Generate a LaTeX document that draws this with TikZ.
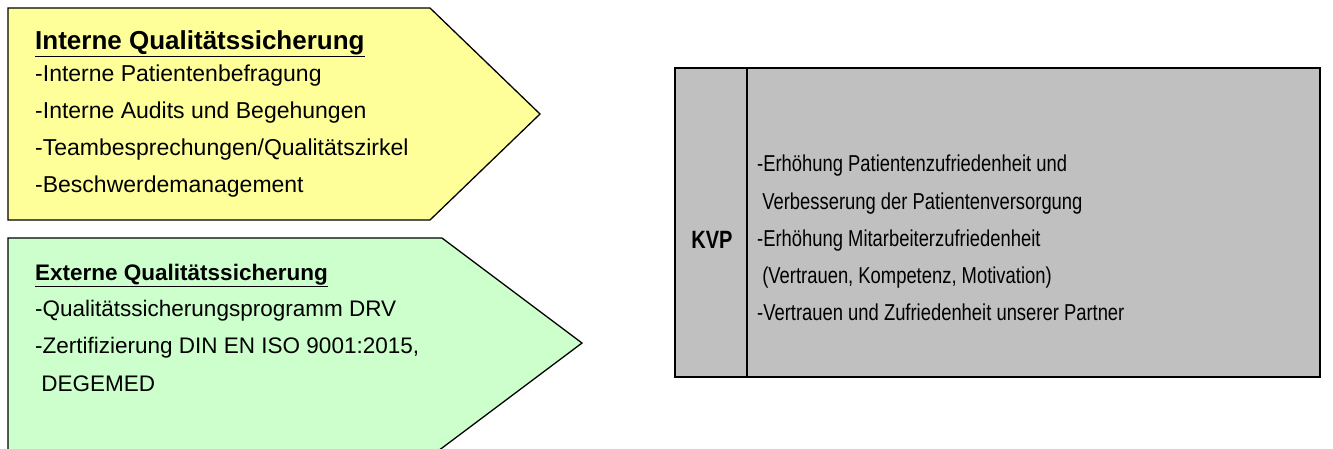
\documentclass[tikz,border=0pt]{standalone}
\usepackage{fontspec}
\setmainfont{Liberation Sans}
\newfontfamily\narrowsans[FakeStretch=0.8]{Liberation Sans}
\begin{document}
\begin{tikzpicture}[x=1pt,y=-1pt,
  arrowbox/.style={draw=black,line width=1.3pt,line join=miter},
  txt/.style={anchor=base west,inner sep=0pt,font=\fontsize{23}{28}\selectfont},
  gtxt/.style={anchor=base west,inner sep=0pt,font=\fontsize{22.5}{28}\selectfont},
  rtxt/.style={anchor=base west,inner sep=0pt,font=\narrowsans\fontsize{23}{28}\selectfont},
  ttl/.style={anchor=base west,inner sep=0pt,font=\fontsize{26}{30}\selectfont\bfseries},
  gttl/.style={anchor=base west,inner sep=0pt,font=\fontsize{22.5}{28}\selectfont\bfseries}]
\useasboundingbox (0,0) rectangle (1333,448);
\begin{scope}
\clip (0,0) rectangle (1333,448);
% internal quality assurance arrow
\path[arrowbox,fill={rgb,255:red,255;green,255;blue,153}]
  (8,8) -- (430,8) -- (540,114) -- (430,220) -- (8,220) -- cycle;
% external quality assurance arrow (runs past the lower edge)
\path[arrowbox,fill={rgb,255:red,204;green,255;blue,204}]
  (8,470) -- (8,238) -- (442,238) -- (582,343) -- (442,448) -- (412,470);
% KVP box
\path[draw=black,line width=2.6pt,fill={rgb,255:red,192;green,192;blue,192}]
  (675,68) rectangle (1320,377);
\draw[line width=2.6pt] (747,68) -- (747,377);
\end{scope}

\node[ttl] (t1) at (35,49) {\underline{Interne Qualitätssicherung}};
\node[txt] (a1) at (35,81) {-Interne Patientenbefragung};
\node[txt] (a2) at (35,118) {-Interne Audits und Begehungen};
\node[txt] (a3) at (35,155) {-Teambesprechungen/Qualitätszirkel};
\node[txt] (a4) at (35,192) {-Beschwerdemanagement};

\node[gttl] (t2) at (35,280) {\underline{Externe Qualitätssicherung}};
\node[gtxt] (b1) at (35,316) {-Qualitätssicherungsprogramm DRV};
\node[gtxt] (b2) at (35,353) {-Zertifizierung DIN EN ISO 9001:2015,};
\node[gtxt] (b3) at (35,391) {\ DEGEMED};

\node[anchor=center,inner sep=0pt,font=\narrowsans\fontsize{25}{30}\selectfont\bfseries] (kvp) at (712,240) {KVP};
\node[rtxt] (c1) at (757,171) {-Erhöhung Patientenzufriedenheit und};
\node[rtxt] (c2) at (757,209) {\ Verbesserung der Patientenversorgung};
\node[rtxt] (c3) at (757,246) {-Erhöhung Mitarbeiterzufriedenheit};
\node[rtxt] (c4) at (757,283) {\ (Vertrauen, Kompetenz, Motivation)};
\node[rtxt] (c5) at (757,320) {-Vertrauen und Zufriedenheit unserer Partner};
\end{tikzpicture}
\end{document}
